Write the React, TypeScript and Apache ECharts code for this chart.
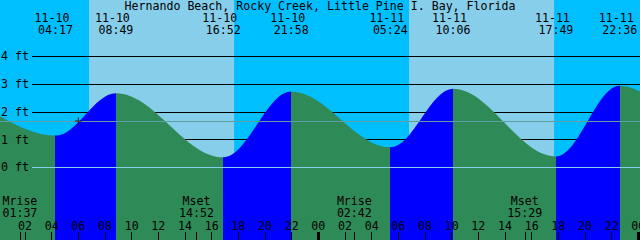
import React, { useEffect, useRef } from 'react';
import * as echarts from 'echarts';

const TITLE = 'Hernando Beach, Rocky Creek, Little Pine I. Bay, Florida';

// Tide extrema visible in the window (date, time, height in ft)
const tideDates = ['11-10', '11-10', '11-10', '11-10', '11-11', '11-11', '11-11', '11-11'];
const tideTimes = ['04:17', '08:49', '16:52', '21:58', '05:24', '10:06', '17:49', '22:36'];
const tideHeights = [1.15, 2.68, 0.37, 2.74, 0.73, 2.84, 0.4, 2.95];
const tideKinds = ['low', 'high', 'low', 'high', 'low', 'high', 'low', 'high'];

// Estimated extrema just outside the window (they shape the curve at the edges)
const beforeDates = ['11-09', '11-09'];
const beforeTimes = ['14:30', '19:45'];
const beforeHeights = [0.45, 2.6];
const afterDates = ['11-12', '11-12'];
const afterTimes = ['05:50', '11:30'];
const afterHeights = [1.0, 2.75];

// Sun
const sunDates = ['11-10', '11-11'];
const sunriseTimes = ['06:48', '06:48'];
const sunsetTimes = ['17:41', '17:41'];

// Moon
const moonKinds = ['Mrise', 'Mset', 'Mrise', 'Mset'];
const moonDates = ['11-10', '11-10', '11-11', '11-11'];
const moonTimes = ['01:37', '14:52', '02:42', '15:29'];

// Current time marker
const nowDate = '11-10';
const nowTime = '06:00';
const nowHeight = 1.68;

// Axis ticks
const hourTicks = [0, 2, 4, 6, 8, 10, 12, 14, 16, 18, 20, 22, 24, 26, 28, 30, 32, 34, 36, 38, 40, 42, 44, 46, 48];
const midnightTicks = [24, 48];
const depthTicks = [0, 1, 2, 3, 4];
const levelLines = [1, 2, 3, 4];

const X_MIN = 0.125;
const X_MAX = 48.125;
const Y_MIN = -2.6126;
const Y_MAX = 6.036;

const NIGHT = '#00BFFF';
const DAY = '#87CEEB';
const RISE = '#0000FF';
const FALL = '#2E8B57';
const ZERO_LINE = '#87CEEB';
const MARK_LINE = '#5F9EA0';

const FONT = "'DejaVu Sans Mono', monospace";
const FS = 11.6;

function toHours(date: string, time: string): number {
  const day = parseInt(date.split('-')[1], 10) - 10;
  const [h, m] = time.split(':').map(Number);
  return day * 24 + h + m / 60;
}

function findIndex(list: number[], v: number): number {
  let best = 0;
  let bd = Infinity;
  list.forEach((x, i) => {
    const d = Math.abs(x - v);
    if (d < bd) {
      bd = d;
      best = i;
    }
  });
  return best;
}

export default function App() {
  const ref = useRef<HTMLDivElement>(null);

  useEffect(() => {
    if (!ref.current) return;
    const chart = echarts.init(ref.current, undefined, { renderer: 'svg' });

    const tideHours = tideDates.map((d, i) => toHours(d, tideTimes[i]));
    const points: number[][] = [];
    beforeDates.forEach((d, i) => points.push([toHours(d, beforeTimes[i]), beforeHeights[i]]));
    tideHours.forEach((h, i) => points.push([h, tideHeights[i]]));
    afterDates.forEach((d, i) => points.push([toHours(d, afterTimes[i]), afterHeights[i]]));

    const pieces: any[] = [];
    for (let i = 0; i < tideKinds.length - 1; i++) {
      if (tideKinds[i] === 'low' && tideKinds[i + 1] === 'high') {
        pieces.push({ min: tideHours[i], max: tideHours[i + 1], color: RISE });
      }
    }

    const dayBands = sunDates.map((d, i) => [
      { xAxis: toHours(d, sunriseTimes[i]) },
      { xAxis: toHours(d, sunsetTimes[i]) },
    ]);

    const moonHours = moonDates.map((d, i) => toHours(d, moonTimes[i]));
    const nowHours = toHours(nowDate, nowTime);

    const textBase = { fontFamily: FONT, fontSize: FS, color: '#000' };

    const baseX = {
      type: 'value',
      min: X_MIN,
      max: X_MAX,
      gridIndex: 0,
      z: 10,
      axisLine: { show: false, onZero: false },
      splitLine: { show: false },
    };

    const option: any = {
      animation: false,
      backgroundColor: NIGHT,
      title: {
        text: TITLE,
        left: 'center',
        top: 0,
        padding: 0,
        z: 10,
        textStyle: { ...textBase, fontWeight: 'normal', lineHeight: 11 },
      },
      grid: { left: 0, right: 0, top: 0, bottom: 0, containLabel: false, outerBoundsMode: 'none' },
      xAxis: [
        {
          ...baseX,
          position: 'bottom',
          axisTick: {
            show: true,
            inside: true,
            length: 8,
            customValues: [...hourTicks, ...moonHours],
            lineStyle: { color: '#000', width: 1 },
          },
          axisLabel: {
            show: true,
            inside: true,
            margin: 8,
            customValues: hourTicks,
            showMinLabel: true,
            showMaxLabel: true,
            lineHeight: 12,
            ...textBase,
            formatter: (v: number) => String(Math.round(v) % 24).padStart(2, '0'),
          },
        },
        {
          ...baseX,
          position: 'top',
          axisTick: { show: false },
          axisLabel: {
            show: true,
            inside: true,
            margin: 11.5,
            customValues: tideHours,
            showMinLabel: true,
            showMaxLabel: true,
            ...textBase,
            formatter: (v: number) => {
              const i = findIndex(tideHours, v);
              return `{d|${tideDates[i]}}\n{t|${tideTimes[i]}}`;
            },
            rich: {
              d: { ...textBase, lineHeight: 12, padding: [0, 7, 0, 0] },
              t: { ...textBase, lineHeight: 12 },
            },
          },
        },
        {
          ...baseX,
          position: 'bottom',
          axisTick: { show: false },
          axisLabel: {
            show: true,
            inside: true,
            margin: 21,
            customValues: moonHours,
            showMinLabel: true,
            showMaxLabel: true,
            lineHeight: 12,
            ...textBase,
            formatter: (v: number) => {
              const i = findIndex(moonHours, v);
              return `${moonKinds[i]}\n${moonTimes[i]}`;
            },
          },
        },
        {
          ...baseX,
          position: 'bottom',
          axisTick: {
            show: true,
            inside: true,
            length: 8,
            customValues: midnightTicks,
            lineStyle: { color: '#000', width: 3 },
          },
          axisLabel: { show: false },
        },
      ],
      yAxis: {
        type: 'value',
        min: Y_MIN,
        max: Y_MAX,
        z: 10,
        axisLine: { show: false, onZero: false },
        axisTick: { show: false },
        splitLine: { show: false },
        axisLabel: {
          show: true,
          inside: true,
          margin: 1,
          customValues: depthTicks,
          showMinLabel: true,
          showMaxLabel: true,
          ...textBase,
          formatter: '{value} ft',
        },
      },
      visualMap: {
        type: 'piecewise',
        show: false,
        dimension: 0,
        seriesIndex: 0,
        pieces,
        outOfRange: { color: FALL },
      },
      series: [
        {
          type: 'line',
          z: 3,
          silent: true,
          data: points,
          smooth: 0.36,
          smoothMonotone: 'x',
          showSymbol: false,
          symbol: 'none',
          lineStyle: { width: 0, opacity: 0 },
          areaStyle: { origin: 'start', opacity: 1 },
          markArea: {
            z: 1,
            silent: true,
            itemStyle: { color: DAY },
            label: { show: false },
            data: dayBands,
          },
          markLine: {
            z: 2,
            silent: true,
            symbol: ['none', 'none'],
            label: { show: false },
            lineStyle: { color: '#000', width: 1, type: 'solid' },
            data: levelLines.map((v) => [{ x: 32, yAxis: v }, { x: 640, yAxis: v }]),
          },
        },
        {
          type: 'scatter',
          z: 6,
          silent: true,
          data: [[nowHours, nowHeight]],
          symbol: 'path://M3,0h1v7h-1zM0,3h7v1h-7z',
          symbolSize: 7,
          itemStyle: { color: '#000' },
          markLine: {
            z: 5,
            silent: true,
            symbol: ['none', 'none'],
            label: { show: false },
            data: [
              [
                { x: 32, yAxis: 0, lineStyle: { color: ZERO_LINE, width: 1, type: 'solid' } },
                { x: 640, yAxis: 0 },
              ],
              [
                { x: 0, yAxis: nowHeight, lineStyle: { color: MARK_LINE, width: 1, type: 'solid' } },
                { x: 640, yAxis: nowHeight },
              ],
            ],
          },
        },
      ],
    };

    chart.setOption(option);
    return () => chart.dispose();
  }, []);

  return (
    <div
      ref={ref}
      style={{ position: 'absolute', left: 0, top: 0, width: 640, height: 240 }}
    />
  );
}
